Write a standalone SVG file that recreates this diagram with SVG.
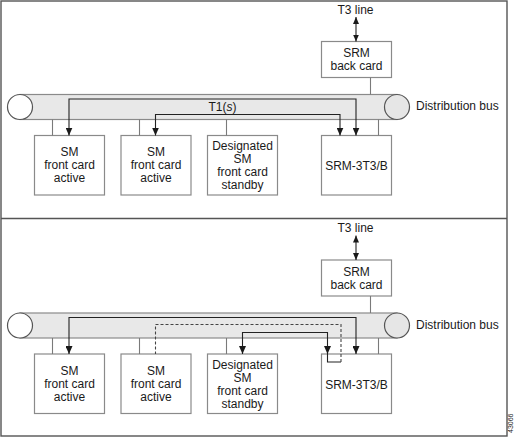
<svg xmlns="http://www.w3.org/2000/svg" width="517" height="438" viewBox="0 0 517 438">
<defs>
<marker id="ah" markerUnits="userSpaceOnUse" markerWidth="8" markerHeight="7" refX="8" refY="3.5" orient="auto-start-reverse">
<path d="M0,0 L8,3.5 L0,7 z" fill="#1a1a1a"/>
</marker>
<marker id="ahs" markerUnits="userSpaceOnUse" markerWidth="7" markerHeight="6" refX="7" refY="3" orient="auto-start-reverse">
<path d="M0,0 L7,3 L0,6 z" fill="#1a1a1a"/>
</marker>
</defs>
<style>
text{font-family:"Liberation Sans",Arial,sans-serif;font-size:12px;fill:#1a1a1a}
.c{text-anchor:middle}
.card{fill:#fff;stroke:#8a8a8a;stroke-width:1.2}
.bus{fill:#e8e8e8;stroke:#8a8a8a;stroke-width:1.2}
.endl{fill:#fff;stroke:#555;stroke-width:1.2}
.endr{fill:#e6e6e6;stroke:#555;stroke-width:1.2}
.stub{stroke:#7a7a7a;stroke-width:1.1;fill:none}
.sig{stroke:#222;stroke-width:1.1;fill:none}
.dash{stroke:#444;stroke-width:1.1;fill:none;stroke-dasharray:3 2}
.frame{fill:none;stroke:#555;stroke-width:1.4}
</style>
<rect class="frame" x="1" y="1" width="506" height="435"/>
<line class="frame" x1="1" y1="218.5" x2="507" y2="218.5"/>

<!-- Top panel -->
<g id="top-bus">
<rect class="bus" x="20" y="94.5" width="377" height="25"/>
<circle class="endl" cx="20" cy="107" r="12.5"/>
<circle class="endr" cx="397" cy="107" r="12.5"/>
<text x="416" y="110">Distribution bus</text>
</g>
<g id="top-t3line"><text class="c" x="355.5" y="13.5">T3 line</text></g>
<g id="top-srm-back">
<rect class="card" x="321.5" y="41.5" width="70" height="36"/>
<text class="c" x="356.5" y="57">SRM</text>
<text class="c" x="356.5" y="70">back card</text>
</g>
<g id="top-sm1">
<rect class="card" x="34.5" y="135.5" width="70" height="59.5"/>
<text class="c" x="69.5" y="156">SM</text>
<text class="c" x="69.5" y="169">front card</text>
<text class="c" x="69.5" y="182">active</text>
</g>
<g id="top-sm2">
<rect class="card" x="121" y="135.5" width="70" height="59.5"/>
<text class="c" x="156" y="156">SM</text>
<text class="c" x="156" y="169">front card</text>
<text class="c" x="156" y="182">active</text>
</g>
<g id="top-sm3">
<rect class="card" x="207.5" y="135.5" width="70" height="59.5"/>
<text class="c" x="242.5" y="150">Designated</text>
<text class="c" x="242.5" y="163">SM</text>
<text class="c" x="242.5" y="176">front card</text>
<text class="c" x="242.5" y="189">standby</text>
</g>
<g id="top-srm">
<rect class="card" x="321.5" y="135.5" width="70" height="59.5"/>
<text class="c" x="356.5" y="170">SRM-3T3/B</text>
</g>
<g id="top-connectors">
<path class="sig" d="M356 17 V41.5" marker-start="url(#ahs)" marker-end="url(#ahs)"/>
<line class="stub" x1="370.5" y1="77.5" x2="370.5" y2="94.5"/>
<line class="stub" x1="52.5" y1="119.5" x2="52.5" y2="135.5"/>
<line class="stub" x1="139.5" y1="119.5" x2="139.5" y2="135.5"/>
<line class="stub" x1="226.5" y1="119.5" x2="226.5" y2="135.5"/>
<line class="stub" x1="378.5" y1="119.5" x2="378.5" y2="135.5"/>
<path class="sig" d="M69 135.5 V99 H356 V135.5" marker-start="url(#ah)" marker-end="url(#ah)"/>
<path class="sig" d="M155.5 135.5 V114.5 H340 V135.5" marker-start="url(#ah)" marker-end="url(#ah)"/>
<text class="c" x="222.5" y="110.5">T1(<tspan font-style="italic">s</tspan>)</text>
</g>

<!-- Bottom panel -->
<g id="bot-bus">
<rect class="bus" x="20" y="313" width="377" height="25"/>
<circle class="endl" cx="20" cy="325.5" r="12.5"/>
<circle class="endr" cx="397" cy="325.5" r="12.5"/>
<text x="416" y="328.5">Distribution bus</text>
</g>
<g id="bot-t3line"><text class="c" x="355.5" y="232">T3 line</text></g>
<g id="bot-srm-back">
<rect class="card" x="321.5" y="260" width="70" height="36"/>
<text class="c" x="356.5" y="275.5">SRM</text>
<text class="c" x="356.5" y="288.5">back card</text>
</g>
<g id="bot-sm1">
<rect class="card" x="34.5" y="354" width="70" height="59.5"/>
<text class="c" x="69.5" y="374.5">SM</text>
<text class="c" x="69.5" y="387.5">front card</text>
<text class="c" x="69.5" y="400.5">active</text>
</g>
<g id="bot-sm2">
<rect class="card" x="121" y="354" width="70" height="59.5"/>
<text class="c" x="156" y="374.5">SM</text>
<text class="c" x="156" y="387.5">front card</text>
<text class="c" x="156" y="400.5">active</text>
</g>
<g id="bot-sm3">
<rect class="card" x="207.5" y="354" width="70" height="59.5"/>
<text class="c" x="242.5" y="368.5">Designated</text>
<text class="c" x="242.5" y="381.5">SM</text>
<text class="c" x="242.5" y="394.5">front card</text>
<text class="c" x="242.5" y="407.5">standby</text>
</g>
<g id="bot-srm">
<rect class="card" x="321.5" y="354" width="70" height="59.5"/>
<text class="c" x="356.5" y="388.5">SRM-3T3/B</text>
</g>
<g id="bot-connectors">
<path class="sig" d="M356 235.5 V260" marker-start="url(#ahs)" marker-end="url(#ahs)"/>
<line class="stub" x1="370.5" y1="296" x2="370.5" y2="313"/>
<line class="stub" x1="52.5" y1="338" x2="52.5" y2="354"/>
<line class="stub" x1="139.5" y1="338" x2="139.5" y2="354"/>
<line class="stub" x1="226.5" y1="338" x2="226.5" y2="354"/>
<line class="stub" x1="378.5" y1="338" x2="378.5" y2="354"/>
<path class="sig" d="M69 354 V317.5 H356 V354" marker-start="url(#ah)" marker-end="url(#ah)"/>
<path class="sig" d="M242.5 354 V332.5 H327.5 V354" marker-start="url(#ah)" marker-end="url(#ah)"/>
<path class="sig" d="M327.5 354 V362 H341"/>
<path class="dash" d="M341 362 V324.5 H155.5 V354"/>
</g>
<text x="0" y="0" transform="translate(513,433) rotate(-90)" style="font-size:7px">43066</text>
</svg>
